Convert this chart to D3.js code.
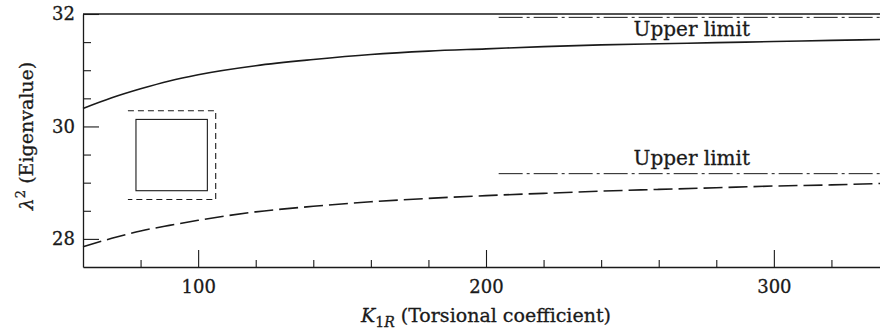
<!DOCTYPE html>
<html>
  <head>
    <meta charset="utf-8">
    <style>
      body { margin: 0; background: #ffffff; }
      text { font-family: "DejaVu Serif", serif; fill: #1a1a1a; stroke: #1a1a1a; stroke-width: 0.3; }
    </style>
  </head>
  <body>
    <script src="https://cdn.jsdelivr.net/npm/d3@7"></script>
    <div id="chart"></div>
    <script>
      // data
      var k_values = [60, 70, 80, 90, 100, 120, 140, 160, 180, 200, 220, 240, 260, 280, 300, 320, 340];
      var upper_mode = [30.32, 30.51, 30.67, 30.81, 30.92, 31.08, 31.19, 31.28, 31.34, 31.38, 31.42, 31.45, 31.47, 31.49, 31.51, 31.53, 31.55];
      var lower_mode = [27.86, 28.01, 28.14, 28.24, 28.33, 28.48, 28.58, 28.66, 28.72, 28.77, 28.81, 28.85, 28.88, 28.91, 28.94, 28.96, 28.99];
      var upper_limits = [31.94, 29.16];
      var limit_start_k = 204.4;
      var limit_label_k = 271.5;
      var x_major = [100, 200, 300];
      var x_minor = [80, 120, 140, 160, 180, 220, 240, 260, 280, 320, 340];
      var y_major = [28, 30, 32];
      var y_minor = [28.5, 29, 29.5, 30.5, 31, 31.5];
      // inset sketch, in data units
      var inset_square = {k0: 78.4, k1: 103.2, l0: 30.125, l1: 28.857};
      var inset_dashed = {k0: 75.6, k1: 106.1, l0: 30.28, l1: 28.70};

      var w = 880, h = 332;
      var plot_left = 83, plot_top = 14, plot_bottom = 267, plot_right = 889;

      var svg = d3.select("#chart").append("svg")
        .attr("width", w).attr("height", h);

      var x = d3.scaleLinear().domain([60, 340]).range([plot_left, plot_right]);
      var y = d3.scaleLinear().domain([27.5, 32]).range([plot_bottom, plot_top]);

      var ink = "#1a1a1a";

      // axes
      var xAxisMajor = d3.axisBottom(x).tickValues(x_major).tickFormat(d3.format("d"))
        .tickSize(-17).tickSizeOuter(0).tickPadding(13);
      var xAxisMinor = d3.axisBottom(x).tickValues(x_minor).tickSize(-7).tickFormat("");
      var yAxisMajor = d3.axisLeft(y).tickValues(y_major).tickFormat(d3.format("d"))
        .tickSize(-16).tickSizeOuter(0).tickPadding(8);
      var yAxisMinor = d3.axisLeft(y).tickValues(y_minor).tickSize(-8).tickFormat("");

      function styleAxis(g) {
        g.selectAll("path").attr("stroke", ink).attr("stroke-width", 1.3);
        g.selectAll("line").attr("stroke", ink).attr("stroke-width", 1.1);
        g.selectAll("text").attr("font-family", "DejaVu Serif").attr("font-size", 18).attr("fill", ink);
      }

      svg.append("g").attr("transform", "translate(0," + plot_bottom + ")").call(xAxisMinor).call(styleAxis)
        .select(".domain").remove();
      svg.append("g").attr("transform", "translate(0," + plot_bottom + ")").call(xAxisMajor).call(styleAxis);
      svg.append("g").attr("transform", "translate(" + plot_left + ",0)").call(yAxisMinor).call(styleAxis)
        .select(".domain").remove();
      svg.append("g").attr("transform", "translate(" + plot_left + ",0)").call(yAxisMajor).call(styleAxis);

      // top frame line
      svg.append("line")
        .attr("x1", plot_left).attr("x2", plot_right)
        .attr("y1", y(32)).attr("y2", y(32))
        .attr("stroke", ink).attr("stroke-width", 1.3);

      // curves
      var line = d3.line()
        .x(function(d){return x(d[0]);})
        .y(function(d){return y(d[1]);})
        .curve(d3.curveMonotoneX);

      svg.append("path")
        .datum(d3.zip(k_values, upper_mode))
        .attr("d", line)
        .attr("fill", "none").attr("stroke", ink).attr("stroke-width", 1.6);

      svg.append("path")
        .datum(d3.zip(k_values, lower_mode))
        .attr("d", line)
        .attr("fill", "none").attr("stroke", ink).attr("stroke-width", 1.6)
        .attr("stroke-dasharray", "19,6");

      // upper limits (dash-dot)
      svg.selectAll(".limit").data(upper_limits).enter().append("line")
        .attr("class", "limit")
        .attr("x1", x(limit_start_k)).attr("x2", plot_right)
        .attr("y1", function(d){return y(d);}).attr("y2", function(d){return y(d);})
        .attr("stroke", ink).attr("stroke-width", 1)
        .attr("stroke-dasharray", "24,4,3,4");

      svg.selectAll(".limit_label").data(upper_limits).enter().append("text")
        .attr("class", "limit_label")
        .attr("x", x(limit_label_k))
        .attr("y", function(d, i){return i == 0 ? y(d) + 19 : y(d) - 9;})
        .attr("text-anchor", "middle")
        .attr("font-size", 20)
        .text("Upper limit");

      // inset sketch
      svg.append("rect")
        .attr("x", x(inset_square.k0)).attr("y", y(inset_square.l0))
        .attr("width", x(inset_square.k1) - x(inset_square.k0))
        .attr("height", y(inset_square.l1) - y(inset_square.l0))
        .attr("fill", "none").attr("stroke", ink).attr("stroke-width", 1.1);

      svg.append("path")
        .attr("d", "M" + x(inset_dashed.k0) + "," + y(inset_dashed.l0) +
                   "H" + x(inset_dashed.k1) + "V" + y(inset_dashed.l1) +
                   "H" + x(inset_dashed.k0))
        .attr("fill", "none").attr("stroke", ink).attr("stroke-width", 1.1)
        .attr("stroke-dasharray", "6,4");

      // axis titles
      var xt = svg.append("text")
        .attr("x", 486).attr("y", 322)
        .attr("text-anchor", "middle")
        .attr("font-size", 19);
      xt.append("tspan").attr("font-style", "italic").text("K");
      xt.append("tspan").attr("font-size", 14).attr("dy", 5).text("1");
      xt.append("tspan").attr("font-size", 14).attr("font-style", "italic").text("R");
      xt.append("tspan").attr("dy", -5).text(" (Torsional coefficient)");

      var yt = svg.append("text")
        .attr("transform", "translate(33,136) rotate(-90)")
        .attr("text-anchor", "middle")
        .attr("font-size", 19);
      yt.append("tspan").attr("font-style", "italic").text("λ");
      yt.append("tspan").attr("font-size", 13).attr("dy", -8).text("2");
      yt.append("tspan").attr("dy", 8).text(" (Eigenvalue)");
    </script>
  </body>
</html>
